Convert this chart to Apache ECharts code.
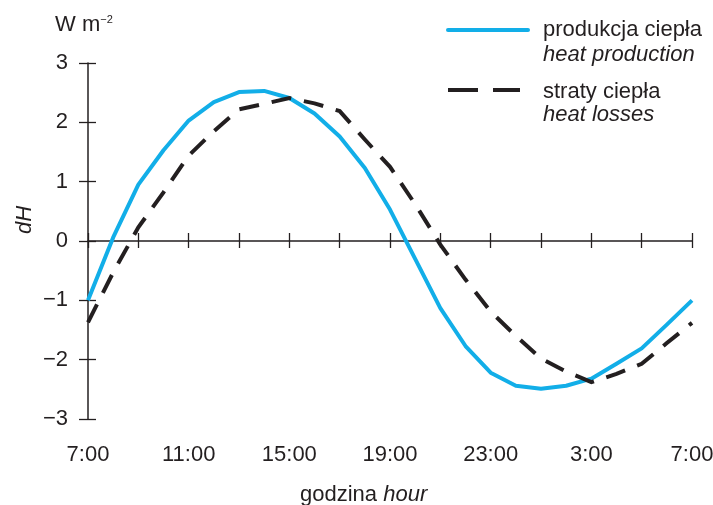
<!DOCTYPE html>
<html>
<head>
<meta charset="utf-8">
<script src="https://cdn.jsdelivr.net/npm/echarts@6/dist/echarts.min.js"></script>
<style>
  html, body { margin: 0; padding: 0; background: #ffffff; }
  #chart { width: 713px; height: 505px; }
</style>
</head>
<body>
<div id="chart"></div>
<script>
// Hours elapsed since 7:00, hourly over one full day (7:00 -> 7:00 next day)
const hours = [0, 1, 2, 3, 4, 5, 6, 7, 8, 9, 10, 11, 12, 13, 14, 15, 16, 17, 18, 19, 20, 21, 22, 23, 24];

// dH, W m-2 : heat production (produkcja ciepła)
const heatProduction = [-1.00, 0.06, 0.95, 1.53, 2.03, 2.34, 2.51, 2.53, 2.41, 2.15, 1.76, 1.23, 0.53,
  -0.30, -1.13, -1.77, -2.22, -2.44, -2.49, -2.44, -2.32, -2.07, -1.81, -1.41, -1.00];

// dH, W m-2 : heat losses (straty ciepła)
const heatLosses = [-1.37, -0.53, 0.23, 0.82, 1.44, 1.85, 2.22, 2.31, 2.41, 2.32, 2.19, 1.71, 1.25,
  0.62, -0.06, -0.65, -1.19, -1.60, -1.98, -2.20, -2.38, -2.24, -2.07, -1.72, -1.38];

// Clock labels every 4 hours
const hourTickLabels = ['7:00', '11:00', '15:00', '19:00', '23:00', '3:00', '7:00'];

const INK = '#231f20';
const BLUE = '#12aee8';
const FONT = '"Liberation Sans", Arial, Helvetica, sans-serif';
const FS = 22;

const productionPairs = hours.map((h, i) => [h, heatProduction[i]]);
const lossesPairs = hours.map((h, i) => [h, heatLosses[i]]);

const tickStyle = { color: INK, width: 1.3 };

const chart = echarts.init(document.getElementById('chart'), null, { renderer: 'canvas' });

chart.setOption({
  animation: false,
  backgroundColor: '#ffffff',
  grid: { left: 88, right: 21, top: 63, bottom: 86, containLabel: false, outerBoundsMode: 'none' },
  xAxis: [
    { // clock labels along the bottom
      type: 'value', min: 0, max: 24, interval: 4, position: 'bottom',
      axisLine: { show: false, onZero: false },
      axisTick: { show: false },
      splitLine: { show: false },
      axisLabel: {
        margin: 25, fontSize: FS, fontFamily: FONT, color: INK,
        formatter: v => hourTickLabels[Math.round(v / 4)]
      }
    },
    { // axis line at dH = 0 with downward ticks every 2 h
      type: 'value', min: 0, max: 24, interval: 2, position: 'bottom',
      axisLine: { show: true, onZero: true, lineStyle: { color: INK, width: 1.5 } },
      axisTick: { show: true, length: 7, lineStyle: tickStyle },
      axisLabel: { show: false },
      splitLine: { show: false }
    },
    { // upward half of the crossing ticks
      type: 'value', min: 0, max: 24, interval: 2, position: 'top',
      axisLine: { show: false, onZero: true },
      axisTick: { show: true, length: 8, lineStyle: tickStyle },
      axisLabel: { show: false },
      splitLine: { show: false }
    }
  ],
  yAxis: [
    {
      type: 'value', min: -3, max: 3, interval: 1, position: 'left',
      axisLine: { show: true, onZero: true, lineStyle: { color: INK, width: 1.5 } },
      axisTick: { show: true, length: 9, lineStyle: tickStyle },
      splitLine: { show: false },
      axisLabel: {
        margin: 20, fontSize: FS, fontFamily: FONT, color: INK,
        formatter: v => String(v).replace('-', '\u2212')
      }
    },
    { // inner half of the crossing ticks
      type: 'value', min: -3, max: 3, interval: 1, position: 'left',
      axisLine: { show: false, onZero: true },
      axisTick: { show: true, inside: true, length: 8, lineStyle: tickStyle },
      axisLabel: { show: false },
      splitLine: { show: false }
    }
  ],
  series: [
    {
      name: 'produkcja ciepła',
      type: 'line',
      xAxisIndex: 0, yAxisIndex: 0,
      data: productionPairs,
      symbol: 'none',
      lineStyle: { color: BLUE, width: 4, join: 'round' },
      z: 3
    },
    {
      name: 'straty ciepła',
      type: 'line',
      xAxisIndex: 0, yAxisIndex: 0,
      data: lossesPairs,
      symbol: 'none',
      lineStyle: { color: INK, width: 4, type: [20, 13], cap: 'butt', join: 'miter' },
      z: 4
    }
  ],
  graphic: [
    { // unit above the value axis
      type: 'text', x: 55, y: 25,
      style: {
        text: '{a|W m}{s|\u22122}',
        verticalAlign: 'middle',
        rich: {
          a: { fontSize: FS, fontFamily: FONT, fill: INK, color: INK },
          s: { fontSize: 11, fontFamily: FONT, fill: INK, color: INK, verticalAlign: 'top' }
        }
      }
    },
    { // value axis title
      type: 'text', x: 25, y: 220, rotation: Math.PI / 2,
      style: {
        text: 'dH', fontSize: FS, fontFamily: FONT, fontStyle: 'italic',
        fill: INK, align: 'center', verticalAlign: 'middle'
      }
    },
    { // time axis title
      type: 'text', x: 300, y: 495,
      style: {
        text: '{n|godzina} {i|hour}',
        verticalAlign: 'middle',
        rich: {
          n: { fontSize: FS, fontFamily: FONT, color: INK },
          i: { fontSize: FS, fontFamily: FONT, color: INK, fontStyle: 'italic' }
        },
        fontSize: FS, fontFamily: FONT, fill: INK
      }
    },
    // legend
    {
      type: 'line', shape: { x1: 448, y1: 30, x2: 528, y2: 30 },
      style: { stroke: BLUE, lineWidth: 4, lineCap: 'round' }
    },
    {
      type: 'text', x: 543, y: 29.5,
      style: { text: 'produkcja ciepła', fontSize: FS, fontFamily: FONT, fill: INK, verticalAlign: 'middle' }
    },
    {
      type: 'text', x: 543, y: 54.5,
      style: { text: 'heat production', fontSize: FS, fontFamily: FONT, fontStyle: 'italic', fill: INK, verticalAlign: 'middle' }
    },
    {
      type: 'line', shape: { x1: 448, y1: 90, x2: 520, y2: 90 },
      style: { stroke: INK, lineWidth: 4, lineDash: [30, 15] }
    },
    {
      type: 'text', x: 543, y: 92,
      style: { text: 'straty ciepła', fontSize: FS, fontFamily: FONT, fill: INK, verticalAlign: 'middle' }
    },
    {
      type: 'text', x: 543, y: 115,
      style: { text: 'heat losses', fontSize: FS, fontFamily: FONT, fontStyle: 'italic', fill: INK, verticalAlign: 'middle' }
    }
  ]
});
</script>
</body>
</html>
